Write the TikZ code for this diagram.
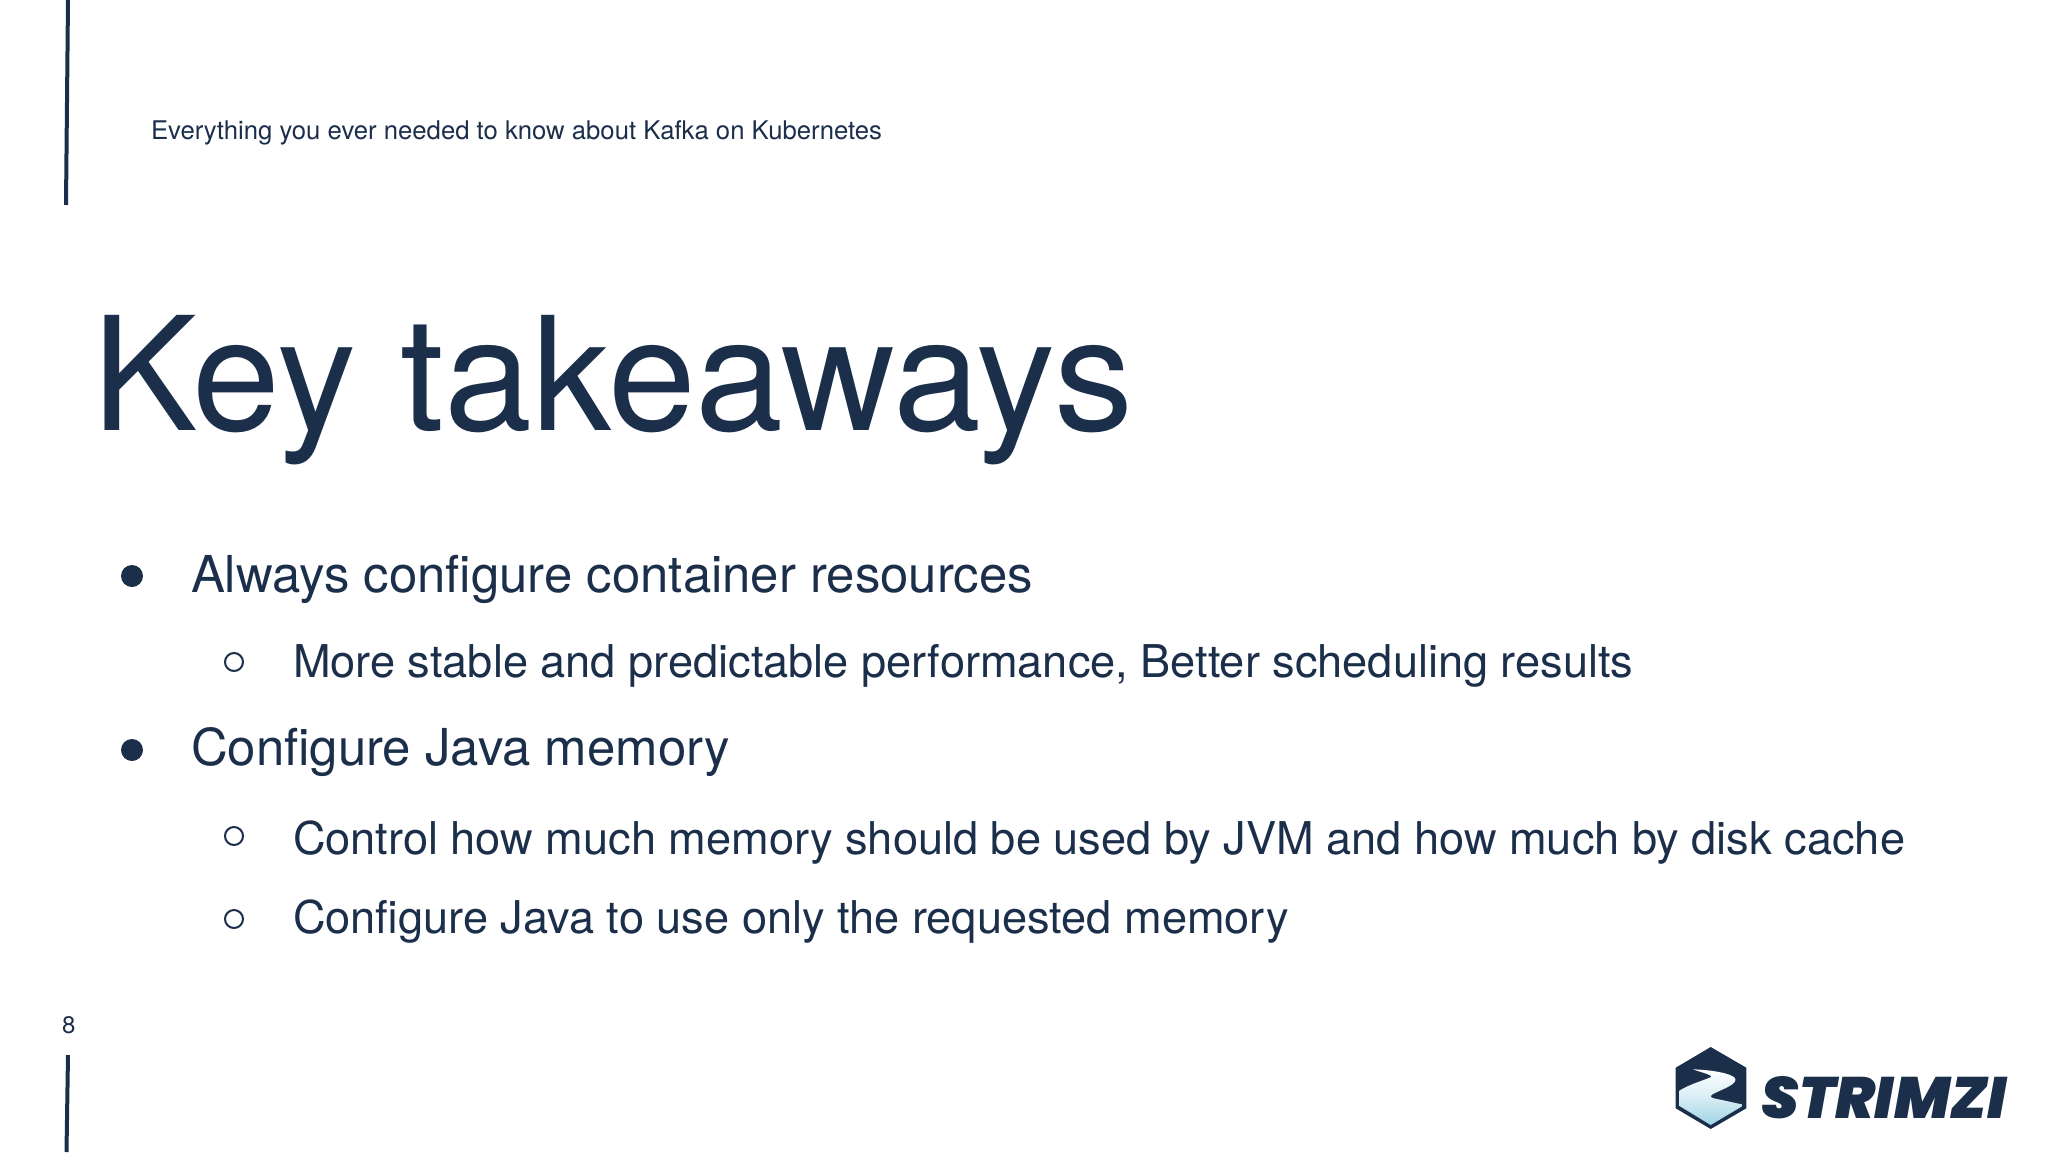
\documentclass[tikz,border=0pt]{standalone}
\usepackage{fontspec}
\setmainfont{TeX Gyre Heros}
\newfontfamily\logofont{Poppins Black Italic}
\usetikzlibrary{shapes.geometric}
\definecolor{navy}{HTML}{1B2F4B}
\definecolor{river}{HTML}{9FD4E6}
\tikzset{
  txt/.style={anchor=base west,inner sep=0pt,outer sep=0pt,text=navy},
  header/.style={txt,font=\fontsize{25.7}{30}\selectfont},
  titletxt/.style={txt,font=\fontsize{158}{170}\selectfont},
  lvlone/.style={txt,font=\fontsize{50.9}{60}\selectfont},
  lvltwo/.style={txt,font=\fontsize{45.15}{56}\selectfont},
  rulebar/.style={draw=navy,line width=4pt},
  dotone/.style={circle,fill=navy,minimum size=22pt,inner sep=0pt},
  dottwo/.style={circle,draw=navy,line width=2pt,minimum size=18pt,inner sep=0pt}
}
\begin{document}
\begin{tikzpicture}[x=1pt,y=-1pt]
\useasboundingbox (0,0) rectangle (2048,1152);
\fill[white] (0,0) rectangle (2048,1152);
\draw[rulebar] (68,0) -- (66,205);
\draw[rulebar] (68,1055) -- (66.5,1152);
\node[header] (head) at (151,139.5) {Everything you ever needed to know about Kafka on Kubernetes};
\node[titletxt] (title) at (92,430) {Key takeaways};
\node[dotone] (b1) at (132,576) {};
\node[lvlone] (t1) at (191,592) {Always configure container resources};
\node[dottwo] (b2) at (234,662) {};
\node[lvltwo] (t2) at (293,677) {More stable and predictable performance, Better scheduling results};
\node[dotone] (b3) at (132,750) {};
\node[lvlone] (t3) at (191,765) {Configure Java memory};
\node[dottwo] (b4) at (234,836) {};
\node[lvltwo] (t4) at (293,854) {Control how much memory should be used by JVM and how much by disk cache};
\node[dottwo] (b5) at (234,919) {};
\node[lvltwo] (t5) at (293,933) {Configure Java to use only the requested memory};
\node[txt,font=\fontsize{24}{28}\selectfont] (pg) at (62,1033) {8};
% logo
\fill[navy] (1710.7,1047) -- (1746.3,1067.7) -- (1746.3,1108.3) -- (1710.7,1129) -- (1675.7,1108.3) -- (1675.7,1067.7) -- cycle;
\shade[top color=white,bottom color=river,middle color=white!60!river]
  (1693,1069.3) .. controls (1712,1070) and (1730,1073) .. (1735,1078)
  .. controls (1738,1084) and (1725,1088) .. (1713,1094)
  .. controls (1708,1097) and (1711,1098) .. (1722,1100)
  -- (1742.5,1104.5) -- (1742.5,1106) -- (1710.7,1125) -- (1679.5,1106) -- (1679.5,1090.5)
  .. controls (1690,1084) and (1705,1080) .. (1711,1077)
  .. controls (1713,1075) and (1700,1072) .. (1693,1069.3) -- cycle;
\node[anchor=base west,inner sep=0pt,text=navy] (logo) at (1761,1118) {\resizebox{245pt}{42pt}{\logofont STRIMZI}};
\end{tikzpicture}
\end{document}
